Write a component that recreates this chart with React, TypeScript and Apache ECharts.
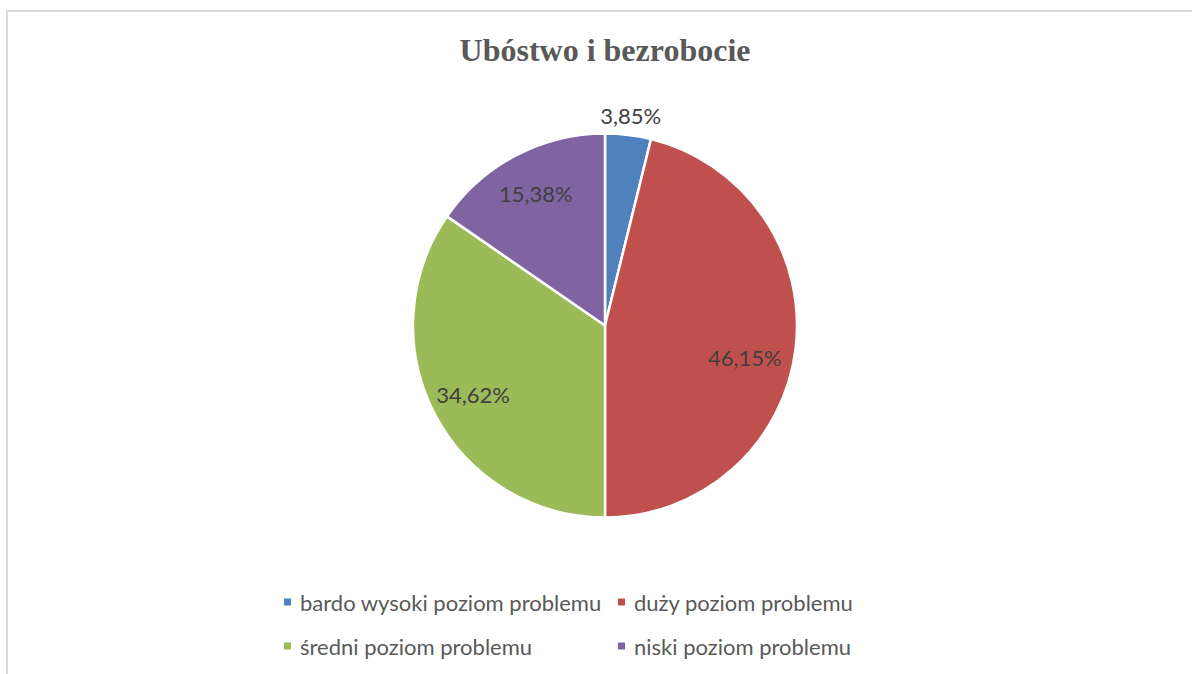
import React, { useEffect, useRef } from "react";
import * as echarts from "echarts";

const titleText = "Ubóstwo i bezrobocie";
const categories = [
  "bardo wysoki poziom problemu",
  "duży poziom problemu",
  "średni poziom problemu",
  "niski poziom problemu",
];
const shares = [3.85, 46.15, 34.62, 15.38];
const colors = ["#4F81BD", "#C0504D", "#9BBB59", "#8064A2"];
const leftLegendItems = [categories[0], categories[2]];
const rightLegendItems = [categories[1], categories[3]];

const fmt = (v: number) => v.toFixed(2).replace(".", ",") + "%";
const FONT = "Lato";

export default function App() {
  const ref = useRef<HTMLDivElement>(null);
  useEffect(() => {
    if (!ref.current) return;
    const chart = echarts.init(ref.current, null, { renderer: "svg" });
    const center = [605, 325.5];
    const labelStyle = {
      color: "#404040",
      fontFamily: FONT,
      fontSize: 22,
    };
    const legendCommon = {
      orient: "vertical" as const,
      top: 591,
      padding: 0,
      itemWidth: 9,
      itemHeight: 9,
      itemGap: 22,
      icon: "rect",
      selectedMode: false,
      textStyle: {
        color: "#595959",
        fontFamily: FONT,
        fontSize: 22,
        lineHeight: 22,
        padding: [0, 0, 0, 3],
      },
    };
    const legendData = (names: string[]) =>
      names.map((n) => ({
        name: n,
        itemStyle: { color: colors[categories.indexOf(n)] },
      }));
    chart.setOption({
      animation: false,
      title: {
        text: titleText,
        left: 600,
        textAlign: "center",
        top: 29,
        textStyle: {
          fontFamily: "Liberation Serif",
          fontWeight: "bold",
          fontSize: 32,
          color: "#595959",
        },
      },
      graphic: [
        {
          type: "rect",
          shape: { x: 7, y: 11, width: 1400, height: 900 },
          style: { fill: "none", stroke: "#d9d9d9", lineWidth: 2 },
          silent: true,
        },
      ],
      legend: [
        { ...legendCommon, left: 282, data: legendData(leftLegendItems) },
        { ...legendCommon, left: 616, data: legendData(rightLegendItems) },
      ],
      series: [
        {
          type: "pie",
          center,
          radius: 192,
          startAngle: 90,
          clockwise: true,
          z: 1,
          label: { show: false },
          labelLine: { show: false },
          emphasis: { disabled: true },
          itemStyle: { borderColor: "#ffffff", borderWidth: 2.5 },
          data: categories.map((c, i) => ({
            name: c,
            value: shares[i],
            itemStyle: { color: colors[i] },
          })),
        },
        {
          type: "pie",
          center,
          radius: 292,
          startAngle: 90,
          clockwise: true,
          silent: true,
          z: 3,
          emphasis: { disabled: true },
          itemStyle: { color: "rgba(0,0,0,0)", borderWidth: 0 },
          labelLine: { show: false },
          label: {
            show: true,
            position: "inside",
            ...labelStyle,
            formatter: (p: any) => fmt(p.value),
          },
          data: categories.map((c, i) => ({
            name: c,
            value: shares[i],
            label: i === 1 ? { show: true, offset: [-8, 14] } : { show: i !== 0 },
          })),
        },
        {
          type: "pie",
          center,
          radius: 418,
          startAngle: 90,
          clockwise: true,
          silent: true,
          z: 3,
          emphasis: { disabled: true },
          itemStyle: { color: "rgba(0,0,0,0)", borderWidth: 0 },
          labelLine: { show: false },
          label: {
            show: true,
            position: "inside",
            ...labelStyle,
            formatter: (p: any) => fmt(p.value),
          },
          data: categories.map((c, i) => ({
            name: c,
            value: shares[i],
            label: { show: i === 0 },
          })),
        },
      ],
    });
    return () => chart.dispose();
  }, []);
  return (
    <div
      ref={ref}
      style={{ position: "absolute", left: 0, top: 0, width: 1192, height: 674, background: "#ffffff" }}
    />
  );
}
